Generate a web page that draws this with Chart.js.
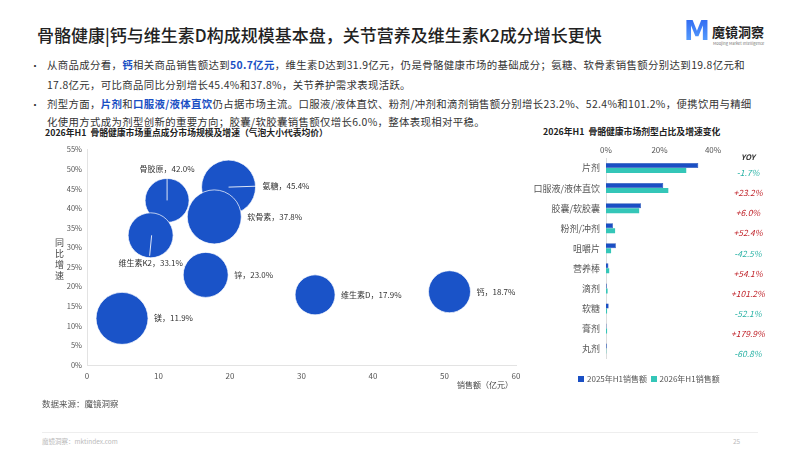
<!DOCTYPE html>
<html>
<head>
<meta charset="utf-8">
<script src="https://cdn.jsdelivr.net/npm/chart.js@4.4.1/dist/chart.umd.min.js"></script>
<style>
  html, body { margin: 0; padding: 0; background: #fff; }
  body { width: 799px; height: 450px; position: relative; overflow: hidden;
         font-family: "Noto Sans CJK SC", "Noto Sans", sans-serif; color: #333; }
  .abs { position: absolute; white-space: nowrap; }
  .title { left: 37px; top: 22px; font-size: 17px; font-weight: 500; color: #222; }
  .logoM { left: 684px; top: 16px; font-size: 26px; font-weight: 900; font-family: "DejaVu Sans", sans-serif;
           background: linear-gradient(180deg, #2c64f0, #5ea8ff); -webkit-background-clip: text; color: transparent; }
  .logoT { left: 712px; top: 22px; font-size: 13px; font-weight: 700; color: #222; }
  .logoS { left: 713px; top: 40px; font-size: 4px; color: #777; }
  .line { left: 47px; font-size: 10.4px; letter-spacing: 0.35px; color: #333; }
  .just { width: 698px; text-align: justify; text-align-last: justify; }
  .dot { left: 30px; font-size: 10px; }
  .hl { color: #1a4fc4; font-weight: 700; }
  .ctitle { font-size: 8.8px; font-weight: 700; color: #222; }
  .small { font-size: 8.5px; color: #444; }
  canvas { position: absolute; }
  .leg i { display: inline-block; width: 6px; height: 6px; margin-right: 3px; vertical-align: 0px; }
</style>
</head>
<body>
<div class="abs title">骨骼健康|钙与维生素D构成规模基本盘，关节营养及维生素K2成分增长更快</div>
<div class="abs logoM">M</div>
<div class="abs logoT">魔镜洞察</div>
<div class="abs logoS">Moojing Market Intelligence</div>

<div class="abs dot" style="top:58px">•</div>
<div class="abs line just" style="top:57px">从商品成分看，<span class="hl">钙</span>相关商品销售额达到<span class="hl">50.7亿元</span>，维生素D达到31.9亿元，仍是骨骼健康市场的基础成分；氨糖、软骨素销售额分别达到19.8亿元和</div>
<div class="abs line" style="top:77px">17.8亿元，可比商品同比分别增长45.4%和37.8%，关节养护需求表现活跃。</div>
<div class="abs dot" style="top:97px">•</div>
<div class="abs line just" style="top:96px">剂型方面，<span class="hl">片剂</span>和<span class="hl">口服液/液体直饮</span>仍占据市场主流。口服液/液体直饮、粉剂/冲剂和滴剂销售额分别增长23.2%、52.4%和101.2%，便携饮用与精细</div>
<div class="abs line" style="top:114px">化使用方式成为剂型创新的重要方向；胶囊/软胶囊销售额仅增长6.0%，整体表现相对平稳。</div>

<div class="abs ctitle" style="left:45px; top:126px">2026年H1&nbsp; 骨骼健康市场重点成分市场规模及增速（气泡大小代表均价）</div>
<div class="abs ctitle" style="left:543px; top:125px">2026年H1&nbsp; 骨骼健康市场剂型占比及增速变化</div>

<canvas id="bubble" width="500" height="260" style="left:30px; top:140px"></canvas>
<div class="abs small" style="left:53px; top:238px; font-size:9px; writing-mode:vertical-rl; text-orientation:upright; letter-spacing:2px">同比增速</div>
<div class="abs small" style="left:457px; top:379px; font-size:8px">销售额（亿元）</div>

<canvas id="bars" width="260" height="230" style="left:530px; top:140px"></canvas>
<div class="abs small leg" style="left:578px; top:373px; font-size:8px; color:#555">
  <i style="background:#1a4fc4"></i>2025年H1销售额&nbsp;&nbsp;<i style="background:#34c6b8"></i>2026年H1销售额
</div>

<div class="abs small" style="left:42px; top:397px; color:#555">数据来源：魔镜洞察</div>
<div class="abs" style="left:42px; top:432px; width:716px; height:1px; background:#eee"></div>
<div class="abs" style="left:42px; top:436px; font-size:6.5px; color:#bbb">魔镜洞察：mktindex.com</div>
<div class="abs" style="left:733px; top:436px; font-size:6.5px; color:#bbb">25</div>

<script>
// ---- 成分气泡图数据 ----
const ingredients = ['钙', '维生素D', '氨糖', '软骨素', '骨胶原', '维生素K2', '锌', '镁'];
const salesAmount = [50.7, 31.9, 19.8, 17.8, 11.2, 8.9, 16.6, 4.9];    // 亿元
const yoyGrowth   = [18.7, 17.9, 45.4, 37.8, 42.0, 33.1, 23.0, 11.9];  // %
const avgPriceR   = [21, 20, 27, 27, 22, 22.5, 22.5, 26];              // 气泡半径（均价）
const labelSide   = ['right', 'right', 'line', 'right', 'above', 'below', 'right', 'right'];

// ---- 剂型柱状图数据 ----
const forms = ['片剂', '口服液/液体直饮', '胶囊/软胶囊', '粉剂/冲剂', '咀嚼片', '营养棒', '滴剂', '软糖', '膏剂', '丸剂'];
const share2025 = [34.5, 21.4, 13.1, 2.6, 3.7, 0.9, 0.3, 1.0, 0.2, 0.3];
const share2026 = [30.0, 23.3, 12.4, 3.4, 1.9, 1.2, 0.6, 0.4, 0.4, 0.1];
const formYoy = ['-1.7%', '+23.2%', '+6.0%', '+52.4%', '-42.5%', '+54.1%', '+101.2%', '-52.1%', '+179.9%', '-60.8%'];
const xTicks = ['0%', '20%', '40%'];

const FONT = '"Noto Sans CJK SC", "Noto Sans", sans-serif';

// 气泡标签
const bubbleLabels = {
  id: 'bubbleLabels',
  afterDatasetsDraw(chart) {
    const ctx = chart.ctx;
    const meta = chart.getDatasetMeta(0);
    ctx.save();
    ctx.font = '8px ' + FONT;
    ctx.fillStyle = '#333';
    ctx.strokeStyle = 'rgba(255,255,255,0.85)';
    ctx.lineWidth = 1;
    meta.data.forEach((pt, i) => {
      const r = avgPriceR[i];
      const text = ingredients[i] + '，' + yoyGrowth[i].toFixed(1) + '%';
      const side = labelSide[i];
      ctx.textBaseline = 'middle';
      if (side === 'right') {
        ctx.textAlign = 'left';
        ctx.fillText(text, pt.x + r + 6, pt.y);
      } else if (side === 'line') {
        ctx.beginPath(); ctx.moveTo(pt.x, pt.y); ctx.lineTo(pt.x + r + 3, pt.y - 1); ctx.stroke();
        ctx.textAlign = 'left';
        ctx.fillText(text, pt.x + r + 7, pt.y - 1);
      } else if (side === 'above') {
        ctx.beginPath(); ctx.moveTo(pt.x, pt.y); ctx.lineTo(pt.x, pt.y - r - 4); ctx.stroke();
        ctx.textAlign = 'center';
        ctx.fillText(text, pt.x, pt.y - r - 9);
      } else {
        ctx.beginPath(); ctx.moveTo(pt.x + 1, pt.y); ctx.lineTo(pt.x - 1, pt.y + r - 2); ctx.stroke();
        ctx.textAlign = 'center';
        ctx.fillText(text, pt.x, pt.y + r + 5);
      }
    });
    ctx.restore();
  }
};

new Chart(document.getElementById('bubble'), {
  type: 'bubble',
  data: {
    datasets: [{
      data: ingredients.map((_, i) => ({ x: salesAmount[i], y: yoyGrowth[i], r: avgPriceR[i] })),
      backgroundColor: '#1a53c8',
      borderColor: 'rgba(255,255,255,0.7)',
      borderWidth: 1
    }]
  },
  options: {
    responsive: false,
    animation: false,
    clip: false,
    layout: { autoPadding: false, padding: { top: 6, right: 14, left: 0, bottom: 0 } },
    plugins: { legend: { display: false }, tooltip: { enabled: false } },
    scales: {
      x: {
        min: 0, max: 60,
        grid: { display: false, drawTicks: false },
        border: { display: true, color: '#e3e3e3' },
        ticks: { stepSize: 10, padding: 6, color: '#555', font: { size: 8, family: FONT } },
        afterFit: (s) => { s.height = 35; }
      },
      y: {
        min: 0, max: 55,
        grid: { display: false, drawTicks: false },
        border: { display: true, color: '#e3e3e3' },
        ticks: { stepSize: 5, padding: 5, color: '#555', font: { size: 7.5, family: FONT },
                 callback: (v) => v + '%' },
        afterFit: (s) => { s.width = 57; }
      }
    }
  },
  plugins: [bubbleLabels]
});

// YOY 列
const yoyColumn = {
  id: 'yoyColumn',
  afterDraw(chart) {
    const ctx = chart.ctx;
    const y = chart.scales.y;
    ctx.save();
    ctx.textAlign = 'center';
    ctx.textBaseline = 'middle';
    ctx.font = 'italic bold 7.5px ' + FONT;
    ctx.fillStyle = '#333';
    ctx.fillText('YOY', 218, 17);
    ctx.font = 'italic 8.5px ' + FONT;
    formYoy.forEach((t, i) => {
      ctx.fillStyle = t[0] === '-' ? '#2bb3a6' : '#c0232a';
      ctx.fillText(t, 218, y.getPixelForValue(i) + 5);
    });
    ctx.restore();
  }
};

new Chart(document.getElementById('bars'), {
  type: 'bar',
  data: {
    labels: forms,
    datasets: [
      { label: '2025年H1销售额', data: share2025, backgroundColor: '#1a4fc4', borderColor: '#0f3ca3', borderWidth: 0.5 },
      { label: '2026年H1销售额', data: share2026, backgroundColor: '#34c6b8' }
    ]
  },
  options: {
    indexAxis: 'y',
    responsive: false,
    animation: false,
    layout: { autoPadding: false, padding: { top: 0, right: 77, left: 0, bottom: 6 } },
    datasets: { bar: { categoryPercentage: 0.5, barPercentage: 1 } },
    plugins: { legend: { display: false }, tooltip: { enabled: false } },
    scales: {
      x: {
        position: 'top',
        min: 0, max: 40,
        grid: { display: false, drawTicks: false },
        border: { display: false },
        ticks: { stepSize: 20, padding: 3, color: '#555', font: { size: 8, family: FONT },
                 callback: (v, i) => xTicks[i] },
        afterFit: (s) => { s.height = 18; }
      },
      y: {
        grid: { display: false, drawTicks: false },
        border: { display: true, color: '#dcdcdc' },
        ticks: { padding: 6, color: '#555', font: { size: 9, family: FONT } },
        afterFit: (s) => { s.width = 76; }
      }
    }
  },
  plugins: [yoyColumn]
});
</script>
</body>
</html>
